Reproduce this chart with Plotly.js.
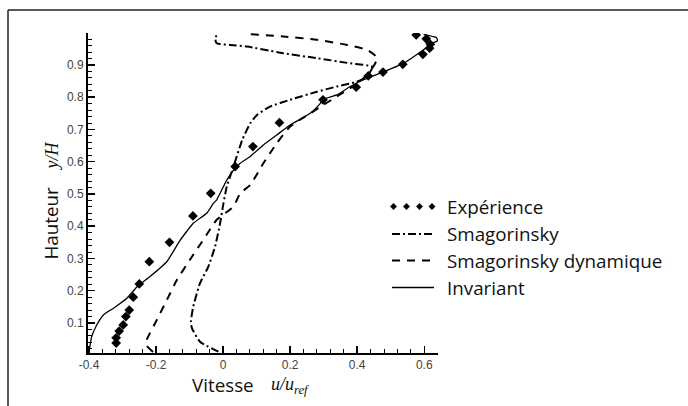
<!DOCTYPE html>
<html><head><meta charset="utf-8">
<script src="https://cdn.plot.ly/plotly-3.0.1.min.js"></script>
<style>html,body{margin:0;padding:0;background:#fff}#chart{width:688px;height:406px}</style>
</head><body><div id="chart"></div>
<script>
// Expérience (diamonds)
const expX = [-0.319,-0.319,-0.310,-0.298,-0.290,-0.280,-0.268,-0.250,-0.220,-0.160,-0.090,-0.037,0.036,0.089,0.168,0.298,0.397,0.433,0.477,0.536,0.596,0.616,0.618,0.606,0.576];
const expY = [0.038,0.054,0.075,0.094,0.120,0.140,0.180,0.221,0.290,0.350,0.432,0.502,0.585,0.647,0.721,0.792,0.831,0.866,0.878,0.902,0.933,0.952,0.964,0.981,0.993];
// Smagorinsky (dash-dot)
const smagX = [-0.014,-0.069,-0.093,-0.096,-0.089,-0.069,-0.044,-0.024,-0.009,0.001,0.011,0.031,0.057,0.081,0.101,0.140,0.200,0.280,0.339,0.399,0.429,0.445,0.379,0.280,0.180,0.160,0.071,0.021,-0.019,-0.024,-0.015];
const smagY = [0.011,0.042,0.084,0.104,0.151,0.223,0.275,0.337,0.409,0.471,0.523,0.585,0.667,0.719,0.745,0.771,0.792,0.817,0.833,0.848,0.864,0.894,0.905,0.921,0.936,0.940,0.957,0.962,0.967,0.984,0.996];
// Smagorinsky dynamique (dashed)
const dynX = [-0.209,-0.228,-0.228,-0.198,-0.168,-0.138,-0.099,-0.059,-0.019,0.031,0.051,0.081,0.120,0.160,0.200,0.260,0.299,0.339,0.379,0.409,0.448,0.460,0.429,0.370,0.280,0.180,0.075];
const dynY = [0.010,0.030,0.047,0.109,0.171,0.233,0.296,0.358,0.420,0.461,0.502,0.528,0.595,0.657,0.709,0.750,0.776,0.802,0.828,0.848,0.895,0.922,0.947,0.962,0.978,0.988,0.996];
// Invariant (solid)
const invX = [-0.400,-0.392,-0.377,-0.357,-0.327,-0.287,-0.258,-0.218,-0.168,-0.128,-0.089,-0.049,-0.029,-0.019,0.011,0.031,0.051,0.081,0.120,0.160,0.200,0.260,0.290,0.299,0.339,0.379,0.419,0.479,0.538,0.598,0.623,0.640,0.636,0.598];
const invY = [0.011,0.058,0.094,0.125,0.146,0.177,0.211,0.244,0.290,0.357,0.409,0.440,0.471,0.482,0.543,0.574,0.595,0.616,0.652,0.683,0.714,0.750,0.781,0.794,0.807,0.833,0.854,0.879,0.905,0.947,0.967,0.975,0.985,0.995];

const seriesNames = ['Expérience','Smagorinsky','Smagorinsky dynamique','Invariant'];
const xTickVals = [-0.4,-0.2,0,0.2,0.4,0.6];
const xTickText = ['-0.4','-0.2','0','0.2','0.4','0.6'];
const yTickVals = [0.1,0.2,0.3,0.4,0.5,0.6,0.7,0.8,0.9];
const yTickText = ['0.1','0.2','0.3','0.4','0.5','0.6','0.7','0.8','0.9'];

const DASHDOT = '8px,3px,2px,3px';
const DASH = '8px,7px';

const traces = [
  {x: expX, y: expY, mode:'markers', type:'scatter', name: seriesNames[0],
   marker:{symbol:'diamond', size:7.5, color:'#000'}},
  {x: smagX, y: smagY, mode:'lines', type:'scatter', name: seriesNames[1],
   line:{color:'#000', width:2, dash:DASHDOT, shape:'spline', smoothing:0.5}},
  {x: dynX, y: dynY, mode:'lines', type:'scatter', name: seriesNames[2],
   line:{color:'#000', width:2, dash:DASH, shape:'spline', smoothing:0.5}},
  {x: invX, y: invY, mode:'lines', type:'scatter', name: seriesNames[3],
   line:{color:'#000', width:1.3, shape:'spline', smoothing:0.4}}
];

// plot area in pixels: x 88..438, y 33..353
const L = 88, T = 33, W = 350, H = 320;
const px = v => (v - L) / W;
const py = v => (T + H - v) / H;

const shapes = [
  {type:'line', xref:'paper', yref:'paper', x0:px(8), x1:px(700), y0:py(10), y1:py(10), line:{color:'#222', width:1.5}},
  {type:'line', xref:'paper', yref:'paper', x0:px(8), x1:px(8), y0:py(10), y1:py(420), line:{color:'#222', width:1.5}}
];
const rowsY = [206.5, 234, 260.5, 287.5];
const symX0 = 392, symX1 = 434;
[393.5, 406.5, 419.5, 432].forEach(xx => {
  shapes.push({type:'path', xref:'paper', yref:'paper', xsizemode:'pixel', ysizemode:'pixel',
    xanchor:px(xx), yanchor:py(rowsY[0]), path:'M0,3.2 L3.2,0 L0,-3.2 L-3.2,0 Z',
    fillcolor:'#000', line:{color:'#000', width:0.5}});
});
shapes.push({type:'line', xref:'paper', yref:'paper', x0:px(symX0), x1:px(symX1), y0:py(rowsY[1]), y1:py(rowsY[1]), line:{color:'#000', width:2, dash:DASHDOT}});
shapes.push({type:'line', xref:'paper', yref:'paper', x0:px(symX0), x1:px(symX1), y0:py(rowsY[2]), y1:py(rowsY[2]), line:{color:'#000', width:2, dash:DASH}});
shapes.push({type:'line', xref:'paper', yref:'paper', x0:px(symX0), x1:px(symX1), y0:py(rowsY[3]), y1:py(rowsY[3]), line:{color:'#000', width:1.3}});

const sansFont = {family:'"Open Sans", "Noto Sans", sans-serif', size:18.8, color:'#111'};
const serifFont = {family:'"Liberation Serif", serif', size:18, color:'#111'};
const annotations = seriesNames.map((n, i) => ({
  xref:'paper', yref:'paper', x:px(445), y:py(rowsY[i]) , xanchor:'left', yanchor:'middle',
  text:n, showarrow:false, font:sansFont
}));
annotations.push({xref:'paper', yref:'paper', x:px(191), y:py(385), xanchor:'left', yanchor:'middle', borderpad:0,
  text:'Vitesse', showarrow:false, font:sansFont});
annotations.push({xref:'paper', yref:'paper', x:px(270), y:py(385), xanchor:'left', yanchor:'middle', borderpad:0,
  text:'<i>u/u</i><sub><i>ref</i></sub>', showarrow:false, font:serifFont});
annotations.push({xref:'paper', yref:'paper', x:px(50), y:py(223.5), xanchor:'center', yanchor:'middle',
  text:'Hauteur', textangle:-90, showarrow:false, font:sansFont});
annotations.push({xref:'paper', yref:'paper', x:px(51), y:py(156.5), xanchor:'center', yanchor:'middle',
  text:'<i>y/H</i>', textangle:-90, showarrow:false, font:serifFont});

const tickFont = {family:'"Liberation Sans", Arial, sans-serif', size:12, color:'#444'};
const layout = {
  width:688, height:406,
  margin:{l:L, r:688-L-W, t:T, b:406-T-H},
  paper_bgcolor:'#fff', plot_bgcolor:'#fff',
  showlegend:false,
  xaxis:{range:[-0.403, 0.641], tickvals:xTickVals, ticktext:xTickText, ticks:'inside', ticklen:7, tickwidth:1.5, tickcolor:'#000',
    showline:true, linecolor:'#000', linewidth:2, showgrid:false, zeroline:false, tickfont:tickFont,
    minor:{dtick:0.04, tick0:0, ticks:'inside', ticklen:4, tickwidth:1, tickcolor:'#000', showgrid:false}},
  yaxis:{range:[0.007, 0.999], tickvals:yTickVals, ticktext:yTickText, ticks:'inside', ticklen:7, tickwidth:1.5, tickcolor:'#000',
    showline:true, linecolor:'#000', linewidth:2, showgrid:false, zeroline:false, tickfont:tickFont,
    minor:{dtick:0.02, tick0:0, ticks:'inside', ticklen:4, tickwidth:1, tickcolor:'#000', showgrid:false}},
  shapes:shapes, annotations:annotations
};
Plotly.newPlot('chart', traces, layout, {displayModeBar:false, staticPlot:true});
</script>
</body></html>
